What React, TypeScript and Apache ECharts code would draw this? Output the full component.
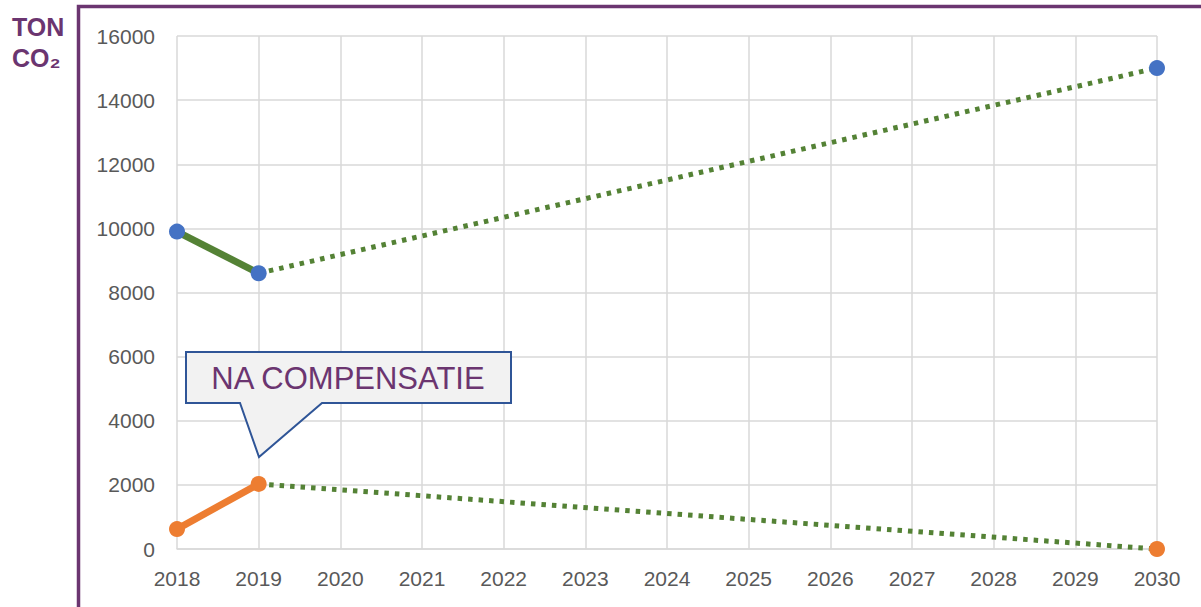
import React, { useEffect, useRef } from "react";
import * as echarts from "echarts";

const years = ["2018","2019","2020","2021","2022","2023","2024","2025","2026","2027","2028","2029","2030"];
const yTicks = { min: 0, max: 16000, interval: 2000 };
// measured values
const emissionsActual = [9900, 8600]; // 2018, 2019
const emissionsTarget2030 = 15000;
const compensatedActual = [620, 2030]; // 2018, 2019
const compensatedTarget2030 = 0;
const yTitle = ["TON", "CO₂"];
const calloutText = "NA COMPENSATIE";

const PURPLE = "#6B3570";
const GREEN = "#548235";
const BLUE = "#4472C4";
const ORANGE = "#ED7D31";
const FONT = "'Liberation Sans', Arial, sans-serif";

function buildActual(actual: number[]) {
  return years.map((_, i) => (i < actual.length ? actual[i] : null));
}
function buildProjection(actual: number[], target: number) {
  const last = actual.length - 1;
  return years.map((_, i) => (i === last ? actual[last] : i === years.length - 1 ? target : null));
}
function buildMarkers(actual: number[], target: number) {
  return years.map((_, i) => (i < actual.length ? actual[i] : i === years.length - 1 ? target : null));
}

export default function App() {
  const ref = useRef<HTMLDivElement>(null);
  useEffect(() => {
    if (!ref.current) return;
    const chart = echarts.init(ref.current, undefined, { renderer: "svg" });
    const lineBase = { type: "line" as const, showSymbol: false, silent: true, connectNulls: true };
    chart.setOption({
      animation: false,
      backgroundColor: "#ffffff",
      grid: { left: 177, right: 44, top: 36, bottom: 58 },
      xAxis: {
        type: "category",
        data: years,
        boundaryGap: false,
        axisLine: { show: true, lineStyle: { color: "#d9d9d9", width: 1.5 } },
        axisTick: { show: false },
        axisLabel: { color: "#595959", fontSize: 21, fontFamily: FONT, margin: 19 },
        splitLine: { show: true, lineStyle: { color: "#d9d9d9", width: 1.5 } },
      },
      yAxis: {
        type: "value",
        min: yTicks.min,
        max: yTicks.max,
        interval: yTicks.interval,
        axisLine: { show: false },
        axisTick: { show: false },
        axisLabel: { color: "#595959", fontSize: 21, fontFamily: FONT, margin: 22, formatter: (v: number) => String(v) },
        splitLine: { show: true, lineStyle: { color: "#d9d9d9", width: 1.5 } },
      },
      series: [
        { ...lineBase, name: "uitstoot", data: buildActual(emissionsActual), lineStyle: { color: GREEN, width: 7 } },
        { ...lineBase, name: "gecompenseerd", data: buildActual(compensatedActual), lineStyle: { color: ORANGE, width: 7 } },
        {
          type: "line", name: "uitstoot punten", data: buildMarkers(emissionsActual, emissionsTarget2030),
          symbol: "circle", symbolSize: 16, showAllSymbol: true,
          lineStyle: { opacity: 0, width: 0 }, itemStyle: { color: BLUE },
        },
        {
          type: "line", name: "gecompenseerd punten", data: buildMarkers(compensatedActual, compensatedTarget2030),
          symbol: "circle", symbolSize: 16, showAllSymbol: true,
          lineStyle: { opacity: 0, width: 0 }, itemStyle: { color: ORANGE },
        },
        { ...lineBase, name: "doel uitstoot", data: buildProjection(emissionsActual, emissionsTarget2030), lineStyle: { color: GREEN, width: 5, type: [4.5, 6] } },
        { ...lineBase, name: "doel gecompenseerd", data: buildProjection(compensatedActual, compensatedTarget2030), lineStyle: { color: GREEN, width: 5, type: [4.5, 6] } },
      ],
      graphic: [
        {
          type: "rect", silent: true, z: 0,
          shape: { x: 78.5, y: 6.5, width: 2000, height: 2000 },
          style: { fill: "none", stroke: PURPLE, lineWidth: 3.5 },
        },
        {
          type: "text", left: 12, top: 11,
          style: { text: yTitle.join("\n"), fill: PURPLE, font: `bold 25px ${FONT}`, lineHeight: 31, align: "center", x: 26 },
        },
        {
          type: "polygon", z: 100,
          shape: { points: [[186, 352], [511, 352], [511, 403], [322, 403], [259, 457], [240, 403], [186, 403]] },
          style: { fill: "#f2f2f2", stroke: "#2F5597", lineWidth: 2 },
        },
        {
          type: "text", z: 101, x: 348, y: 378,
          style: { text: calloutText, fill: PURPLE, font: `31px ${FONT}`, align: "center", verticalAlign: "middle" },
        },
      ],
    });
    return () => chart.dispose();
  }, []);
  return <div ref={ref} style={{ position: "fixed", left: 0, top: 0, width: 1201, height: 607 }} />;
}
